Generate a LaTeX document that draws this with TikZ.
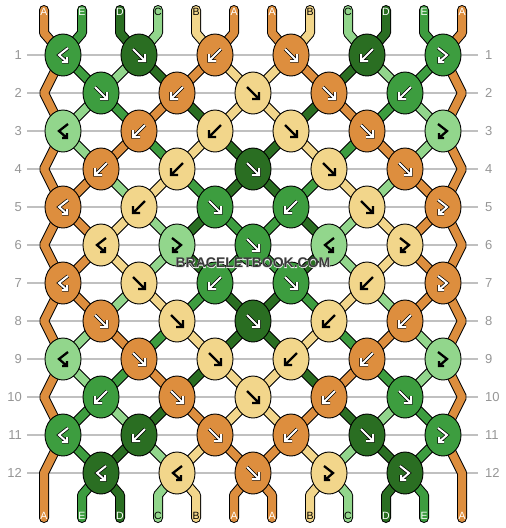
\documentclass[tikz,border=0pt]{standalone}
\usepackage{fontspec}
\setmainfont{Liberation Sans}
\newfontfamily\wmfont{Liberation Sans Bold}
\newfontfamily\wmhalo[FakeBold=4]{Liberation Sans Bold}
\usetikzlibrary{shapes.geometric}
\definecolor{cA}{RGB}{221,142,62}
\definecolor{cB}{RGB}{242,214,139}
\definecolor{cC}{RGB}{146,214,140}
\definecolor{cD}{RGB}{42,110,34}
\definecolor{cE}{RGB}{61,157,63}
\definecolor{rowline}{RGB}{192,192,192}
\definecolor{rowtxt}{RGB}{150,150,150}
\definecolor{wmark}{RGB}{58,58,58}
\definecolor{halo}{RGB}{235,235,235}
\tikzset{
  strout/.style={line width=10pt, draw=black, line join=bevel, line cap=round},
  strin/.style={line width=8pt, line join=bevel, line cap=round},
  knot/.style={ellipse, draw=black, line width=0.9pt, minimum width=36pt, minimum height=42pt, inner sep=0pt},
  lbl/.style={font=\fontsize{10.5}{12}\selectfont, inner sep=0pt},
  rowlbl/.style={font=\fontsize{13}{14}\selectfont, text=rowtxt, inner sep=0pt},
}
\def\pF{(-6,-6) -- (6,6) (6,-1) -- (6,6) -- (-1,6)}
\def\pB{(6,-6) -- (-6,6) (-6,-1) -- (-6,6) -- (1,6)}
\def\pBF{(5,-7) -- (-4,0) -- (4,7) (4,2) -- (4,7) -- (-1,7)}
\def\pFB{(-5,-7) -- (4,0) -- (-4,7) (-4,2) -- (-4,7) -- (1,7)}
\newcommand\kn[6]{%
  \node[knot, fill=#4] (#1) at (#2,#3) {};
  \begin{scope}[shift={(#2,#3)}]
    \ifx w#6
      \draw[black, line width=3.4pt] #5;
      \draw[white, line width=2pt] #5;
    \else
      \draw[black, line width=2.3pt] #5;
    \fi
  \end{scope}}
\newcommand\allstrands[1]{%
  \draw[cA,#1] (44,10)--(44,33)--(63,55)--(44,93)--(63,131)--(44,169)--(63,207)--(44,245)--(63,283)--(44,321)--(63,359)--(44,397)--(63,435)--(44,473)--(44,495)--(44,518);
  \draw[cE,#1] (82,10)--(82,33)--(63,55)--(101,93)--(139,131)--(177,169)--(215,207)--(253,245)--(291,283)--(329,321)--(367,359)--(405,397)--(443,435)--(405,473)--(424,495)--(424,518);
  \draw[cD,#1] (120,10)--(120,33)--(139,55)--(177,93)--(215,131)--(253,169)--(291,207)--(329,245)--(291,283)--(253,321)--(215,359)--(177,397)--(139,435)--(101,473)--(120,495)--(120,518);
  \draw[cC,#1] (158,10)--(158,33)--(139,55)--(101,93)--(63,131)--(101,169)--(139,207)--(177,245)--(139,283)--(101,321)--(63,359)--(101,397)--(139,435)--(177,473)--(158,495)--(158,518);
  \draw[cB,#1] (196,10)--(196,33)--(215,55)--(253,93)--(291,131)--(329,169)--(367,207)--(405,245)--(367,283)--(329,321)--(291,359)--(253,397)--(215,435)--(177,473)--(196,495)--(196,518);
  \draw[cA,#1] (234,10)--(234,33)--(215,55)--(177,93)--(139,131)--(101,169)--(63,207)--(101,245)--(63,283)--(101,321)--(139,359)--(177,397)--(215,435)--(253,473)--(272,495)--(272,518);
  \draw[cA,#1] (272,10)--(272,33)--(291,55)--(329,93)--(367,131)--(405,169)--(443,207)--(405,245)--(443,283)--(405,321)--(367,359)--(329,397)--(291,435)--(253,473)--(234,495)--(234,518);
  \draw[cB,#1] (310,10)--(310,33)--(291,55)--(253,93)--(215,131)--(177,169)--(139,207)--(101,245)--(139,283)--(177,321)--(215,359)--(253,397)--(291,435)--(329,473)--(310,495)--(310,518);
  \draw[cC,#1] (348,10)--(348,33)--(367,55)--(405,93)--(443,131)--(405,169)--(367,207)--(329,245)--(367,283)--(405,321)--(443,359)--(405,397)--(367,435)--(329,473)--(348,495)--(348,518);
  \draw[cD,#1] (386,10)--(386,33)--(367,55)--(329,93)--(291,131)--(253,169)--(215,207)--(177,245)--(215,283)--(253,321)--(291,359)--(329,397)--(367,435)--(405,473)--(386,495)--(386,518);
  \draw[cE,#1] (424,10)--(424,33)--(443,55)--(405,93)--(367,131)--(329,169)--(291,207)--(253,245)--(215,283)--(177,321)--(139,359)--(101,397)--(63,435)--(101,473)--(82,495)--(82,518);
  \draw[cA,#1] (462,10)--(462,33)--(443,55)--(462,93)--(443,131)--(462,169)--(443,207)--(462,245)--(443,283)--(462,321)--(443,359)--(462,397)--(443,435)--(462,473)--(462,495)--(462,518);
}
\begin{document}
\begin{tikzpicture}[x=1pt, y=-1pt]
\useasboundingbox[fill=white] (0,0) rectangle (506,528);
% row lines and numbers
\foreach \r in {1,...,12}{
  \pgfmathsetmacro\yy{55+38*(\r-1)}
  \draw[rowline, line width=1.3pt] (27,\yy) -- (478,\yy);
  \node[rowlbl, anchor=east] (rl\r) at (22,\yy) {\r};
  \node[rowlbl, anchor=west] (rr\r) at (485,\yy) {\r};
}
% strands
\allstrands{strout}
\allstrands{strin}
% string end labels
\foreach \xx/\lt/\tc [count=\i] in {44/A/white,82/E/white,120/D/white,158/C/black,196/B/black,234/A/white,272/A/white,310/B/black,348/C/black,386/D/white,424/E/white,462/A/white}{
  \node[lbl, text=\tc] (t\i) at (\xx,12) {\lt};
  \node[lbl, text=\tc] (b\i) at (\xx,516) {\lt};
}
% knots
\kn{r1a}{63}{55}{cE}{\pBF}{w}
\kn{r1b}{139}{55}{cD}{\pF}{w}
\kn{r1c}{215}{55}{cA}{\pB}{w}
\kn{r1d}{291}{55}{cA}{\pF}{w}
\kn{r1e}{367}{55}{cD}{\pB}{w}
\kn{r1f}{443}{55}{cE}{\pFB}{w}
\kn{r2a}{101}{93}{cE}{\pF}{w}
\kn{r2b}{177}{93}{cA}{\pB}{w}
\kn{r2c}{253}{93}{cB}{\pF}{b}
\kn{r2d}{329}{93}{cA}{\pF}{w}
\kn{r2e}{405}{93}{cE}{\pB}{w}
\kn{r3a}{63}{131}{cC}{\pBF}{b}
\kn{r3b}{139}{131}{cA}{\pB}{w}
\kn{r3c}{215}{131}{cB}{\pB}{b}
\kn{r3d}{291}{131}{cB}{\pF}{b}
\kn{r3e}{367}{131}{cA}{\pF}{w}
\kn{r3f}{443}{131}{cC}{\pFB}{b}
\kn{r4a}{101}{169}{cA}{\pB}{w}
\kn{r4b}{177}{169}{cB}{\pB}{b}
\kn{r4c}{253}{169}{cD}{\pF}{w}
\kn{r4d}{329}{169}{cB}{\pF}{b}
\kn{r4e}{405}{169}{cA}{\pF}{w}
\kn{r5a}{63}{207}{cA}{\pBF}{w}
\kn{r5b}{139}{207}{cB}{\pB}{b}
\kn{r5c}{215}{207}{cE}{\pF}{w}
\kn{r5d}{291}{207}{cE}{\pB}{w}
\kn{r5e}{367}{207}{cB}{\pF}{b}
\kn{r5f}{443}{207}{cA}{\pFB}{w}
\kn{r6a}{101}{245}{cB}{\pBF}{b}
\kn{r6b}{177}{245}{cC}{\pFB}{b}
\kn{r6c}{253}{245}{cE}{\pF}{w}
\kn{r6d}{329}{245}{cC}{\pBF}{b}
\kn{r6e}{405}{245}{cB}{\pFB}{b}
\kn{r7a}{63}{283}{cA}{\pBF}{w}
\kn{r7b}{139}{283}{cB}{\pF}{b}
\kn{r7c}{215}{283}{cE}{\pB}{w}
\kn{r7d}{291}{283}{cE}{\pF}{w}
\kn{r7e}{367}{283}{cB}{\pB}{b}
\kn{r7f}{443}{283}{cA}{\pFB}{w}
\kn{r8a}{101}{321}{cA}{\pF}{w}
\kn{r8b}{177}{321}{cB}{\pF}{b}
\kn{r8c}{253}{321}{cD}{\pF}{w}
\kn{r8d}{329}{321}{cB}{\pB}{b}
\kn{r8e}{405}{321}{cA}{\pB}{w}
\kn{r9a}{63}{359}{cC}{\pBF}{b}
\kn{r9b}{139}{359}{cA}{\pF}{w}
\kn{r9c}{215}{359}{cB}{\pF}{b}
\kn{r9d}{291}{359}{cB}{\pB}{b}
\kn{r9e}{367}{359}{cA}{\pB}{w}
\kn{r9f}{443}{359}{cC}{\pFB}{b}
\kn{r10a}{101}{397}{cE}{\pB}{w}
\kn{r10b}{177}{397}{cA}{\pF}{w}
\kn{r10c}{253}{397}{cB}{\pF}{b}
\kn{r10d}{329}{397}{cA}{\pB}{w}
\kn{r10e}{405}{397}{cE}{\pF}{w}
\kn{r11a}{63}{435}{cE}{\pBF}{w}
\kn{r11b}{139}{435}{cD}{\pB}{w}
\kn{r11c}{215}{435}{cA}{\pF}{w}
\kn{r11d}{291}{435}{cA}{\pB}{w}
\kn{r11e}{367}{435}{cD}{\pF}{w}
\kn{r11f}{443}{435}{cE}{\pFB}{w}
\kn{r12a}{101}{473}{cD}{\pBF}{w}
\kn{r12b}{177}{473}{cB}{\pBF}{b}
\kn{r12c}{253}{473}{cA}{\pF}{w}
\kn{r12d}{329}{473}{cB}{\pFB}{b}
\kn{r12e}{405}{473}{cD}{\pFB}{w}
% watermark with a light halo
\node[font=\fontsize{14}{14}\selectfont, inner sep=0pt] (wm) at (253,263)
  {\rlap{\wmhalo\color{halo}BRACELETBOOK.COM}{\wmfont\color{wmark}BRACELETBOOK.COM}};
\end{tikzpicture}
\end{document}
